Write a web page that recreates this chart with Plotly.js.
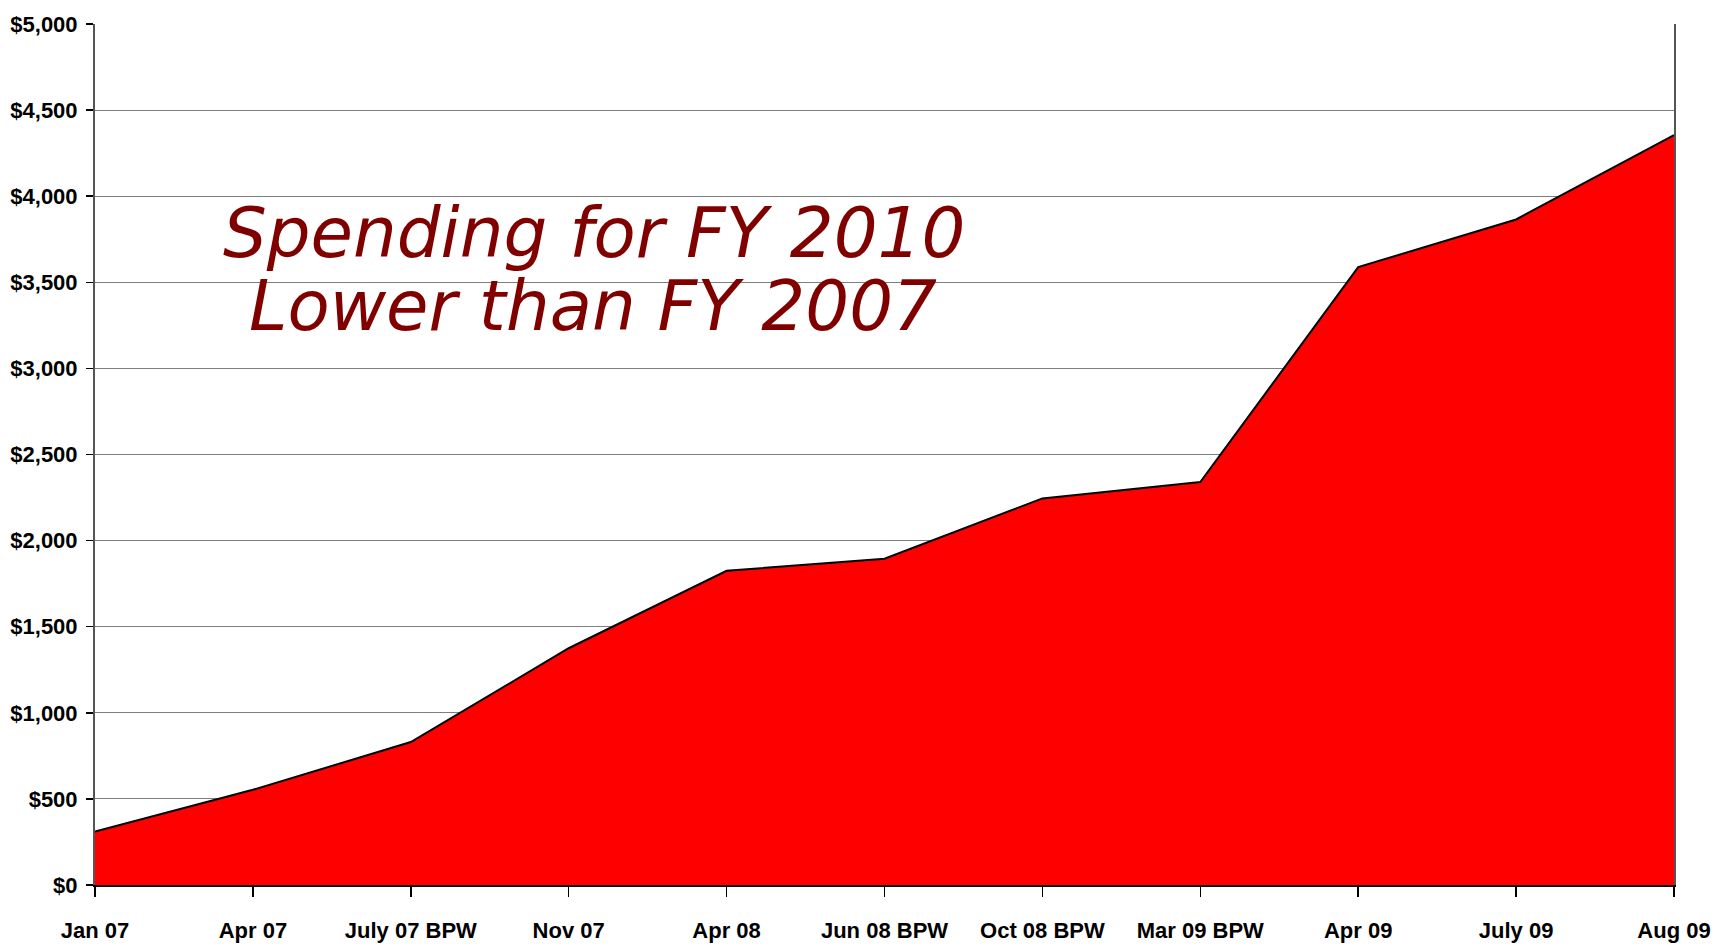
<!DOCTYPE html>
<html>
<head>
<meta charset="utf-8">
<script src="https://cdn.plot.ly/plotly-3.0.1.min.js"></script>
<style>html,body{margin:0;padding:0;background:#fff;}#chart{width:1715px;height:947px;}</style>
</head>
<body>
<div id="chart"></div>
<script>
const categories = ["Jan 07", "Apr 07", "July 07 BPW", "Nov 07", "Apr 08", "Jun 08 BPW", "Oct 08 BPW", "Mar 09 BPW", "Apr 09", "July 09", "Aug 09"];
const spending = [310, 553, 830, 1375, 1825, 1895, 2245, 2340, 3588, 3865, 4355];
const yTicks = [0, 500, 1000, 1500, 2000, 2500, 3000, 3500, 4000, 4500, 5000];
const yTickText = ["$0", "$500", "$1,000", "$1,500", "$2,000", "$2,500", "$3,000", "$3,500", "$4,000", "$4,500", "$5,000"];
const noteLines = ["Spending for FY 2010", "Lower than FY 2007"];

const tickFont = {family: "'Liberation Sans Narrow', 'Arial Narrow', 'Liberation Sans', Arial, sans-serif", size: 22, color: "#000", weight: "bold"};
const noteFont = {family: "'DejaVu Sans', Verdana, sans-serif", size: 69, color: "#800000", style: "italic"};

const trace = {
  x: categories,
  y: spending,
  type: "scatter",
  mode: "lines",
  fill: "tozeroy",
  fillcolor: "#FF0000",
  line: {color: "#000", width: 2},
  hoverinfo: "x+y"
};

const layout = {
  width: 1715,
  height: 947,
  margin: {l: 95, r: 41, t: 24, b: 62},
  paper_bgcolor: "#fff",
  plot_bgcolor: "#fff",
  showlegend: false,
  xaxis: {
    type: "category",
    range: [0, categories.length - 1],
    showgrid: false,
    zeroline: false,
    showline: true,
    linecolor: "#000",
    linewidth: 2,
    ticks: "outside",
    ticklen: 10,
    tickwidth: 1.5,
    tickcolor: "#000",
    tickfont: tickFont,
    ticklabelstandoff: 15,
    fixedrange: true
  },
  yaxis: {
    range: [0, 5000],
    tickmode: "array",
    tickvals: yTicks,
    ticktext: yTickText,
    showgrid: true,
    gridcolor: "#7f7f7f",
    gridwidth: 1,
    zeroline: false,
    showline: true,
    mirror: true,
    linecolor: "#555",
    linewidth: 2,
    ticks: "outside",
    ticklen: 7,
    tickwidth: 1.5,
    tickcolor: "#000",
    tickfont: tickFont,
    ticklabelstandoff: 4,
    fixedrange: true
  },
  annotations: [
    {text: noteLines[0], xref: "paper", yref: "paper", x: 0.316, y: 0.757, xanchor: "center", yanchor: "middle", showarrow: false, font: noteFont},
    {text: noteLines[1], xref: "paper", yref: "paper", x: 0.3155, y: 0.673, xanchor: "center", yanchor: "middle", showarrow: false, font: noteFont}
  ]
};

Plotly.newPlot("chart", [trace], layout, {displayModeBar: false, staticPlot: true});
</script>
</body>
</html>
